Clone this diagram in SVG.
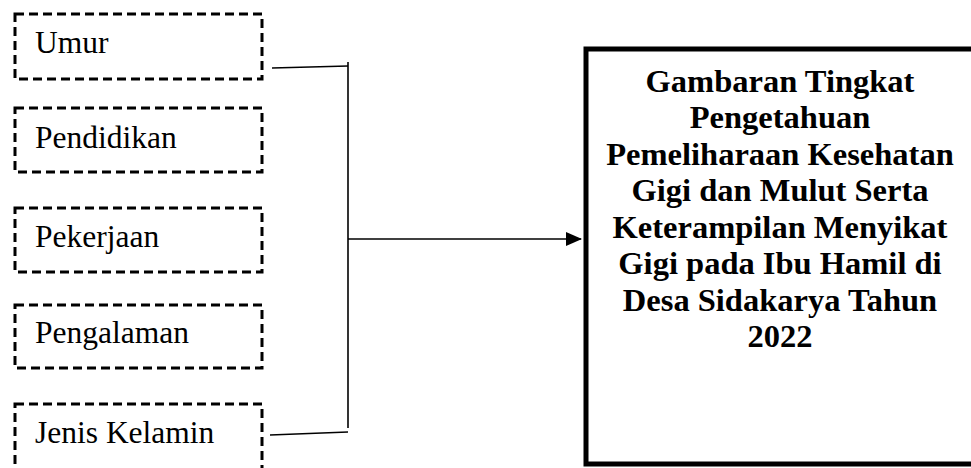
<svg xmlns="http://www.w3.org/2000/svg" width="971" height="468" viewBox="0 0 971 468">
<style>
.box{fill:#fff;stroke:#000;stroke-width:3;stroke-dasharray:9 5}
.lbl{font-family:"Liberation Serif","Times New Roman",serif;font-size:31.5px;fill:#000}
.title{font-family:"Liberation Serif","Times New Roman",serif;font-size:32.5px;font-weight:bold;fill:#000;text-anchor:middle}
.line{stroke:#000;stroke-width:1.6;fill:none}
</style>
<defs>
<marker id="arrow" markerWidth="16" markerHeight="14" refX="15" refY="7" orient="auto" markerUnits="userSpaceOnUse">
<path d="M0,0 L16,7 L0,14 Z" fill="#000"/>
</marker>
</defs>
<rect width="971" height="468" fill="#fff"/>
<g id="umur"><rect class="box" x="15" y="14" width="247" height="65"/><text class="lbl" x="35" y="53">Umur</text></g>
<g id="pendidikan"><rect class="box" x="15" y="108" width="247" height="64"/><text class="lbl" x="35" y="148">Pendidikan</text></g>
<g id="pekerjaan"><rect class="box" x="15" y="208" width="247" height="64"/><text class="lbl" x="35" y="247">Pekerjaan</text></g>
<g id="pengalaman"><rect class="box" x="15" y="305" width="247" height="63"/><text class="lbl" x="35" y="343">Pengalaman</text></g>
<g id="jenis-kelamin"><rect class="box" x="15" y="404" width="247" height="70"/><text class="lbl" x="35" y="443">Jenis Kelamin</text></g>
<g id="result">
<rect x="586" y="49" width="400" height="415" fill="#fff" stroke="#000" stroke-width="5"/>
<text class="title" x="780" y="91.5">Gambaran Tingkat</text>
<text class="title" x="780" y="128">Pengetahuan</text>
<text class="title" x="780" y="164.5">Pemeliharaan Kesehatan</text>
<text class="title" x="780" y="201">Gigi dan Mulut Serta</text>
<text class="title" x="780" y="237.5">Keterampilan Menyikat</text>
<text class="title" x="780" y="274">Gigi pada Ibu Hamil di</text>
<text class="title" x="780" y="310.5">Desa Sidakarya Tahun</text>
<text class="title" x="780" y="347">2022</text>
</g>
<g id="connectors">
<line class="line" x1="272" y1="68" x2="348" y2="66"/>
<line class="line" x1="270" y1="435" x2="348" y2="432"/>
<line class="line" x1="348" y1="62" x2="348" y2="428"/>
<line class="line" x1="348" y1="239" x2="581" y2="239" marker-end="url(#arrow)"/>
</g>
</svg>
